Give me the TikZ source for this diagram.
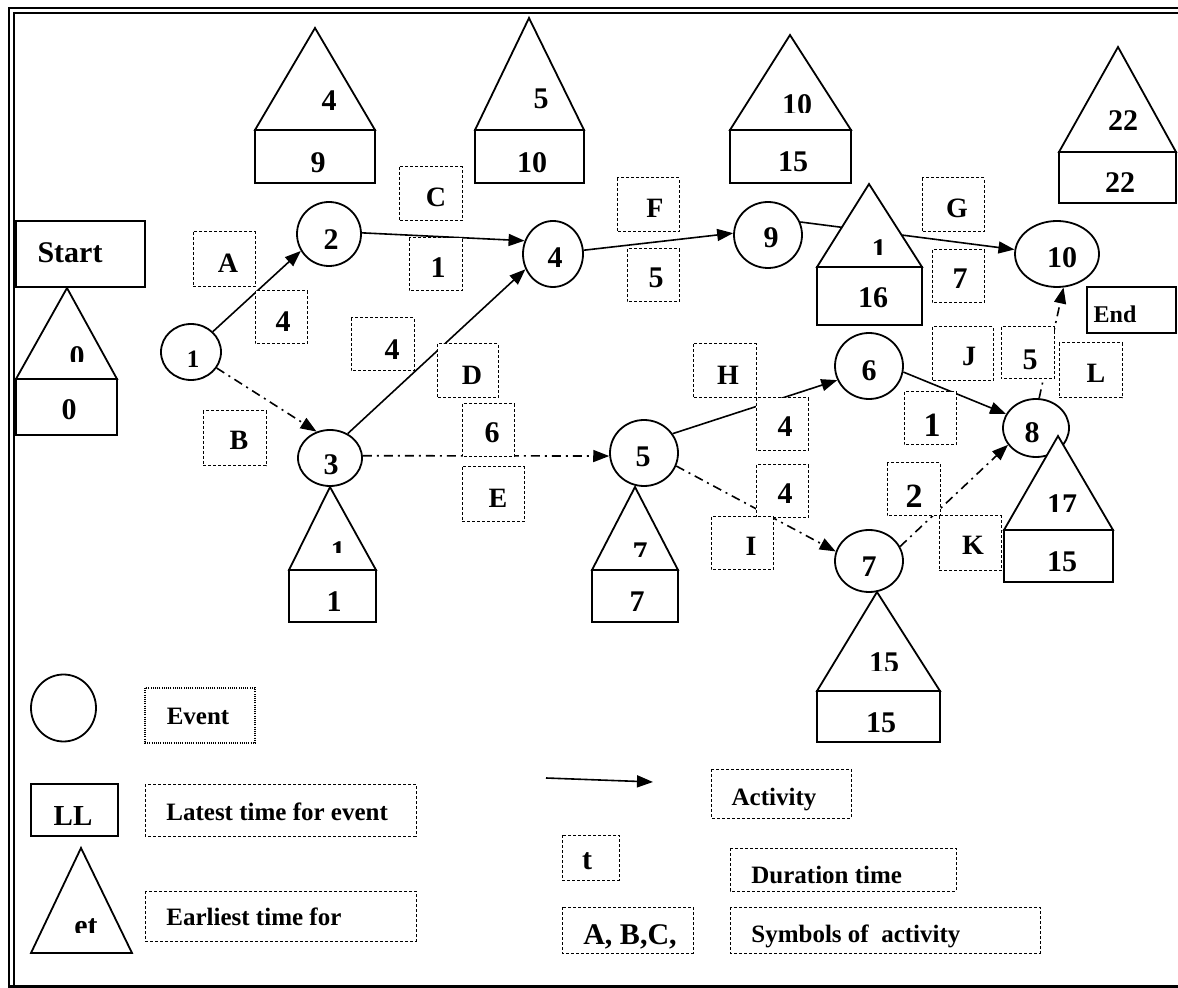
\documentclass[tikz,border=0pt]{standalone}
\usepackage{fontspec}
\setmainfont{Liberation Serif}
\usetikzlibrary{arrows.meta,shapes.geometric}
\newcommand\evhouse[6]{%
  \draw[shp] (#3,#5) rectangle (#4,#6);
  \draw[shp] (#1,#2) -- (#3,#5) -- (#4,#5) -- cycle;}
\newcommand\lbox[8]{%
  \draw[dbox] (#1,#2) rectangle (#3,#4);
  \node[#8] at (#5,#6) {#7};}
\begin{document}
\begin{tikzpicture}[x=0.5pt,y=-0.5pt,
  ev/.style={draw,ellipse,line width=0.9pt,inner sep=0pt,fill=white},
  lbl/.style={anchor=base,inner sep=0pt,font=\fontsize{15pt}{18pt}\selectfont\bfseries},
  lbls/.style={lbl,font=\fontsize{12.5pt}{15pt}\selectfont\bfseries},
  lbll/.style={lbl,font=\fontsize{14pt}{17pt}\selectfont\bfseries},
  lblb/.style={lbl,font=\fontsize{17pt}{20pt}\selectfont\bfseries},
  txtl/.style={anchor=base west,inner sep=0pt,font=\fontsize{12.5pt}{15pt}\selectfont\bfseries},
  shp/.style={draw,line width=0.9pt,fill=white},
  dbox/.style={draw,line width=0.5pt,dash pattern=on 1.5pt off 1pt,fill=white},
  dotbox/.style={draw,line width=0.6pt,dash pattern=on 0.5pt off 0.6pt,fill=white},
  act/.style={line width=0.8pt,-{Triangle[length=8pt,width=6pt]}},
  dact/.style={act,dash pattern=on 4.5pt off 2.5pt on 1pt off 2.5pt},
]
\useasboundingbox (0,0) rectangle (1178,988);
% frame
\draw[line width=1pt] (8.5,986.5) -- (8.5,8.5) -- (1178,8.5);
\draw[line width=1pt] (13.5,986.5) -- (13.5,13.5) -- (1178,13.5);
\draw[line width=1.2pt] (8,986.5) -- (1178,986.5);

% events
\node[ev,minimum width=30pt,minimum height=28pt] (n1) at (191,352) {};
\node[ev,minimum width=32pt,minimum height=32pt] (n2) at (329,234) {};
\node[ev,minimum width=32pt,minimum height=28pt] (n3) at (330,458) {};
\node[ev,minimum width=30pt,minimum height=33pt] (n4) at (553,254) {};
\node[ev,minimum width=34pt,minimum height=33pt] (n5) at (644,453) {};
\node[ev,minimum width=34pt,minimum height=33pt] (n6) at (869,366) {};
\node[ev,minimum width=34pt,minimum height=31pt] (n7) at (869,561) {};
\node[ev,minimum width=33pt,minimum height=29pt] (n8) at (1036,428) {};
\node[ev,minimum width=34pt,minimum height=33pt] (n9) at (768,235) {};
\node[ev,minimum width=42pt,minimum height=33pt] (n10) at (1057,254) {};

% activities
\draw[act] (n1.43) -- (n2.211);
\draw[dact] (n1.328) -- (n3.117);
\draw[act] (n2.2) -- (n4.155);
\draw[act] (n3.54) -- (n4.209);
\draw[dact] (n3.4) -- (n5.185);
\draw[act] (n4.7) -- (n9.177);
\draw[act] (n9.22) -- (n10.174);
\draw[act] (n5.34) -- (n6.204);
\draw[dact] (n5.338) -- (n7.164);
\draw[act] (n6.350) -- (n8.155);
\draw[dact] (n7.25) -- (n8.211);
\draw[dact] (n8.84) -- (n10.281);

% event numbers
\node[lbls] (t1) at (193,368) {1};
\node[lbl] (t2) at (331,250) {2};
\node[lbl] (t3) at (331,475) {3};
\node[lbl] (t4) at (555,268) {4};
\node[lbl] (t5) at (643,467) {5};
\node[lbl] (t6) at (869,381) {6};
\node[lbl] (t7) at (869,577) {7};
\node[lbl] (t8) at (1032,443) {8};
\node[lbl] (t9) at (771,248) {9};
\node[lbl] (t10) at (1062,268) {10};

% activity labels and durations
\lbox{193}{232}{255}{287}{228}{273}{A}{lbll}
\lbox{255}{291}{307}{344}{283}{332}{4}{lbl}
\lbox{203}{411}{266}{466}{239}{450}{B}{lbll}
\lbox{351}{318}{414}{371}{392}{360}{4}{lbl}
\lbox{399}{167}{462}{221}{436}{207}{C}{lbll}
\lbox{409}{238}{462}{291}{438}{278}{1}{lbl}
\lbox{437}{344}{498}{398}{472}{385}{D}{lbll}
\lbox{462}{404}{514}{457}{492}{443}{6}{lbl}
\lbox{462}{467}{524}{522}{498}{508}{E}{lbll}
\lbox{617}{178}{679}{232}{655}{218}{F}{lbll}
\lbox{627}{249}{679}{302}{656}{288}{5}{lbl}
\lbox{693}{344}{756}{398}{728}{385}{H}{lbll}
\lbox{756}{398}{808}{451}{785}{437}{4}{lbl}
\lbox{756}{465}{808}{518}{785}{504}{4}{lbl}
\lbox{711}{517}{773}{570}{751}{556}{I}{lbll}
\lbox{922}{178}{984}{232}{957}{218}{G}{lbll}
\lbox{932}{250}{984}{303}{960}{289}{7}{lbl}
\lbox{932}{327}{993}{381}{969}{366}{J}{lbll}
\lbox{1001}{327}{1054}{379}{1030}{370}{5}{lbl}
\lbox{1059}{343}{1122}{398}{1096}{383}{L}{lbll}
\lbox{904}{392}{956}{445}{932}{437}{1}{lblb}
\lbox{887}{463}{940}{516}{914}{508}{2}{lblb}
\lbox{939}{516}{1001}{571}{973}{555}{K}{lbll}

% start / end
\draw[shp] (16,221) rectangle (145,287);
\node[lbl] (tstart) at (70,263) {Start};
\draw[shp] (1087,287) rectangle (1176,333);
\node[lbl,font=\fontsize{12pt}{14pt}\selectfont\bfseries] (tend) at (1115,323) {End};

% houses: earliest (triangle) / latest (rectangle)
\evhouse{67}{288}{16}{117}{379}{435}
\begin{scope}\clip (16,280) rectangle (117,362); \node[lbl] (e1) at (77,367) {0};\end{scope}
\node[lbl] (l1) at (69,420) {0};

\evhouse{315}{28}{255}{375}{130}{183}
\node[lbl] (e2) at (329,111) {4};
\node[lbl] (l2) at (318,173) {9};

\evhouse{330}{487}{289}{376}{570}{622}
\begin{scope}\clip (289,480) rectangle (376,553); \node[lbl] (e3) at (338,562) {1};\end{scope}
\node[lbl] (l3) at (334,612) {1};

\evhouse{529}{18}{475}{584}{130}{183}
\node[lbl] (e4) at (541,109) {5};
\node[lbl] (l4) at (532,173) {10};

\evhouse{635}{487}{592}{678}{570}{622}
\begin{scope}\clip (592,480) rectangle (678,557); \node[lbl] (e5) at (640,563) {7};\end{scope}
\node[lbl] (l5) at (637,612) {7};

\evhouse{790}{35}{730}{851}{130}{183}
\begin{scope}\clip (730,30) rectangle (851,113); \node[lbl] (e9) at (797,115) {10};\end{scope}
\node[lbl] (l9) at (793,172) {15};

\evhouse{869}{184}{817}{922}{267}{325}
\begin{scope}\clip (817,180) rectangle (922,255); \node[lbl] (e6) at (879,260) {1};\end{scope}
\node[lbl] (l6) at (873,308) {16};

\evhouse{877}{592}{817}{940}{691}{742}
\begin{scope}\clip (817,590) rectangle (940,670); \node[lbl] (e7) at (884,673) {15};\end{scope}
\node[lbl] (l7) at (881,732) {15};

\evhouse{1058}{436}{1004}{1113}{530}{582}
\begin{scope}\clip (1004,430) rectangle (1113,512); \node[lbl] (e8) at (1062,515) {17};\end{scope}
\node[lbl] (l8) at (1062,572) {15};

\evhouse{1118}{47}{1059}{1176}{152}{203}
\node[lbl] (e10) at (1123,131) {22};
\node[lbl] (l10) at (1120,193) {22};

% legend
\node[ev,minimum width=32.5pt,minimum height=33.5pt] (lev) at (63.5,708) {};
\draw[dotbox] (145,688) rectangle (255,743);
\node[lbls] (tev) at (198,725) {Event};

\draw[shp] (31,784) rectangle (118,836);
\node[lbl,font=\fontsize{14.5pt}{17pt}\selectfont\bfseries] (tll) at (73,825) {LL};
\draw[dbox] (145,784) rectangle (416,836);
\node[txtl] (tlate) at (166,820) {Latest time for event};

\draw[shp] (81,848) -- (31,953) -- (132,953) -- cycle;
\begin{scope}\clip (31,840) rectangle (132,932); \node[lbl] (tet) at (86,935) {et};\end{scope}
\draw[dbox] (145,891) rectangle (416,941);
\node[txtl] (tearly) at (166,925) {Earliest time for};

\coordinate (a1) at (546,778);
\coordinate (a2) at (653,782);
\draw[act] (a1) -- (a2);
\draw[dbox] (711,769) rectangle (851,818);
\node[lbls] (tact) at (774,805) {Activity};

\draw[dbox] (562,835) rectangle (619,880);
\node[lbl] (tt) at (587,869) {t};
\draw[dbox] (730,848) rectangle (956,891);
\node[txtl] (tdur) at (751,883) {Duration time};

\draw[dbox] (562,907) rectangle (693,953);
\node[lbl] (tabc) at (630,944) {A, B,C,};
\draw[dbox] (730,907) rectangle (1040,953);
\node[txtl] (tsym) at (751,942) {Symbols of~ activity};
\end{tikzpicture}
\end{document}
